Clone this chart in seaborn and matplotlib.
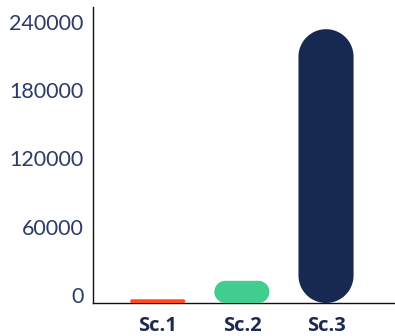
import matplotlib
matplotlib.use("Agg")
import matplotlib.pyplot as plt
from matplotlib.patches import PathPatch
from matplotlib.path import Path
from matplotlib.transforms import IdentityTransform
import numpy as np
import seaborn as sns
import pandas as pd

# Scenario totals
scenarios = ["Sc.1", "Sc.2", "Sc.3"]
values = [3300, 19500, 240500]
colors = ["#FF4A1C", "#41CD8D", "#172851"]
yticks = [0, 60000, 120000, 180000, 240000]

sns.set_style("white")
plt.rcParams["font.family"] = ["Lato", "DejaVu Sans"]

DPI = 100
fig = plt.figure(figsize=(3.95, 3.36), dpi=DPI)
ax = fig.add_axes([0.2354, 0.0982, 0.7646, 0.8810])

df = pd.DataFrame({"scenario": scenarios, "value": values})
sns.barplot(data=df, x="scenario", y="value", hue="scenario",
            palette=colors, saturation=1, width=0.655, legend=False, ax=ax)

ax.set_xlim(-0.77, 2.82)
ax.set_ylim(0, 260000)
ax.set_xlabel("")
ax.set_ylabel("")

for s in ["top", "right"]:
    ax.spines[s].set_visible(False)
for s in ["left", "bottom"]:
    ax.spines[s].set_color("#111111")
    ax.spines[s].set_linewidth(1.0)

ax.set_yticks(yticks)
ax.set_yticklabels([str(v) for v in yticks])
ax.tick_params(axis="y", length=0, pad=7, labelsize=15.5, labelcolor="#2E3A68")
for lab in ax.get_yticklabels():
    lab.set_verticalalignment("baseline")
ax.tick_params(axis="x", length=0, pad=9, labelsize=14.5, labelcolor="#1C2A52")
for lab in ax.get_xticklabels():
    lab.set_fontweight("bold")
    lab.set_family(["Open Sans", "DejaVu Sans"])


def rounded_rect(x0, y0, w, h, r):
    """Closed path of a rectangle whose corners are true circular arcs."""
    pts = []
    corners = [(x0 + w - r, y0 + r, -90, 0), (x0 + w - r, y0 + h - r, 0, 90),
               (x0 + r, y0 + h - r, 90, 180), (x0 + r, y0 + r, 180, 270)]
    for cx, cy, a0, a1 in corners:
        t = np.radians(np.linspace(a0, a1, 40))
        pts.extend(zip(cx + r * np.cos(t), cy + r * np.sin(t)))
    pts.append(pts[0])
    codes = [Path.MOVETO] + [Path.LINETO] * (len(pts) - 2) + [Path.CLOSEPOLY]
    return Path(pts, codes)


# Swap the flat bars for pill-shaped ones measured in pixel space
fig.canvas.draw()
for patch in list(ax.patches):
    bb = patch.get_window_extent()
    r = min(bb.width, bb.height) / 2.0
    pill = PathPatch(rounded_rect(bb.x0, bb.y0, bb.width, bb.height, r),
                     transform=IdentityTransform(),
                     facecolor=patch.get_facecolor(), edgecolor="none",
                     clip_on=False, zorder=3)
    patch.set_visible(False)
    fig.add_artist(pill)

fig.savefig("out.png", dpi=DPI)
